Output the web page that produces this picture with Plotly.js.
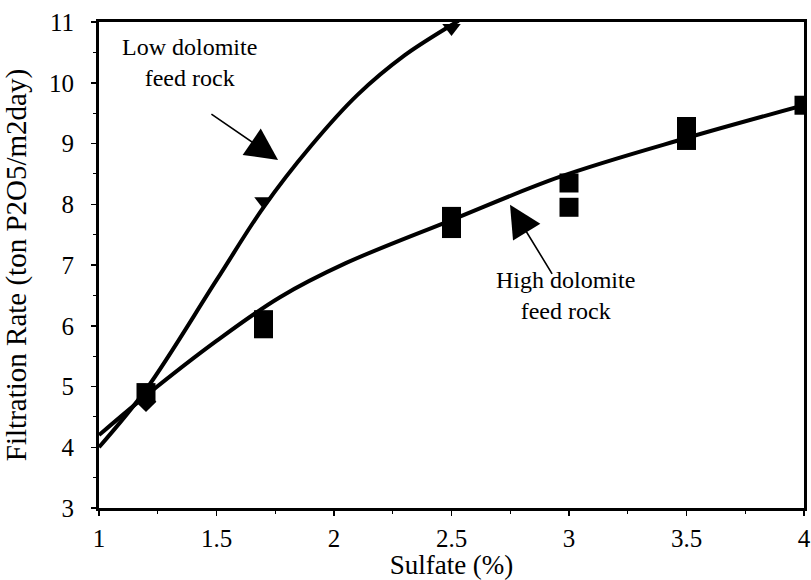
<!DOCTYPE html>
<html>
<head>
<meta charset="utf-8">
<script src="https://cdn.plot.ly/plotly-3.0.1.min.js"></script>
<style>html,body{margin:0;padding:0;background:#fff;}#chart{width:811px;height:580px;}</style>
</head>
<body>
<div id="chart"></div>
<script>
// High dolomite feed rock: measured points (squares)
const highX = [1.2, 1.7, 1.7, 2.5, 2.5, 3.0, 3.0, 3.5, 3.5, 4.0];
const highY = [4.9, 5.95, 6.1, 7.6, 7.8, 8.35, 7.95, 9.05, 9.28, 9.63];
// High dolomite fitted curve
const highCurveX = [1.0, 1.2, 1.5, 1.77, 2.05, 2.5, 2.96, 3.5, 4.0];
const highCurveY = [4.2, 4.85, 5.75, 6.47, 7.03, 7.74, 8.45, 9.09, 9.63];
// Low dolomite feed rock: measured points
const lowX = [1.2, 1.7, 2.5];
const lowY = [4.75, 8.05, 10.9];
const lowSymbols = ['diamond', 'triangle-down', 'triangle-down'];
// Low dolomite fitted curve
const lowCurveX = [1.0, 1.2, 1.5, 1.7, 1.9, 2.1, 2.3, 2.5, 2.53];
const lowCurveY = [4.0, 4.95, 6.75, 7.95, 8.95, 9.8, 10.45, 10.95, 11.02];

const xTicks = [1, 1.5, 2, 2.5, 3, 3.5, 4];
const xTickText = ['1', '1.5', '2', '2.5', '3', '3.5', '4'];
const yTicks = [3, 4, 5, 6, 7, 8, 9, 10, 11];

const font = 'Times New Roman';

const traces = [
  {x: highCurveX, y: highCurveY, mode: 'lines', line: {color: '#000', width: 4, shape: 'spline', smoothing: 1}, hoverinfo: 'skip'},
  {x: lowCurveX, y: lowCurveY, mode: 'lines', line: {color: '#000', width: 4, shape: 'spline', smoothing: 1}, hoverinfo: 'skip'},
  {x: highX, y: highY, mode: 'markers', marker: {symbol: 'square', size: 19, color: '#000'}},
  {x: lowX, y: lowY, mode: 'markers', marker: {symbol: lowSymbols, size: 16, color: '#000'}}
];

const layout = {
  width: 811, height: 580,
  margin: {l: 99, r: 7, t: 22, b: 72},
  paper_bgcolor: '#fff', plot_bgcolor: '#fff',
  showlegend: false,
  font: {family: font, color: '#000', size: 25},
  xaxis: {
    range: [1, 4], tickvals: xTicks, ticktext: xTickText,
    showgrid: false, zeroline: false,
    showline: true, linecolor: '#000', linewidth: 3, mirror: true,
    ticks: 'outside', ticklen: 5, tickwidth: 1.5, tickcolor: '#000',
    minor: {dtick: 0.25, tick0: 1, ticks: 'outside', ticklen: 3, tickwidth: 1, tickcolor: '#000'},
    tickfont: {family: font, size: 25},
    ticklabelstandoff: 1,
    title: {text: 'Sulfate (%)', font: {family: font, size: 27}, standoff: 0}
  },
  yaxis: {
    range: [3, 11], tickvals: yTicks,
    showgrid: false, zeroline: false,
    showline: true, linecolor: '#000', linewidth: 3, mirror: true,
    ticks: 'outside', ticklen: 5, tickwidth: 1.5, tickcolor: '#000',
    minor: {dtick: 0.5, tick0: 3, ticks: 'outside', ticklen: 3, tickwidth: 1, tickcolor: '#000'},
    tickfont: {family: font, size: 25},
    ticklabelstandoff: 12,
    title: {text: 'Filtration Rate (ton P2O5/m2day)', font: {family: font, size: 29}, standoff: 16}
  },
  annotations: [
    {x: 1.387, y: 10.34, xref: 'x', yref: 'y', text: 'Low dolomite<br>feed rock', showarrow: false,
     font: {family: font, size: 24, color: '#000'}, align: 'center'},
    {x: 1.762, y: 8.73, ax: 1.472, ay: 9.5, axref: 'x', ayref: 'y', xref: 'x', yref: 'y', text: '',
     showarrow: true, arrowhead: 2, arrowsize: 4, arrowwidth: 1.6, arrowcolor: '#000'},
    {x: 2.983, y: 6.5, xref: 'x', yref: 'y', text: 'High dolomite<br>feed rock', showarrow: false,
     font: {family: font, size: 24, color: '#000'}, align: 'center'},
    {x: 2.749, y: 7.99, ax: 2.932, ay: 6.83, axref: 'x', ayref: 'y', xref: 'x', yref: 'y', text: '',
     showarrow: true, arrowhead: 2, arrowsize: 4, arrowwidth: 1.6, arrowcolor: '#000'}
  ]
};

Plotly.newPlot('chart', traces, layout, {displayModeBar: false, staticPlot: true});
</script>
</body>
</html>
